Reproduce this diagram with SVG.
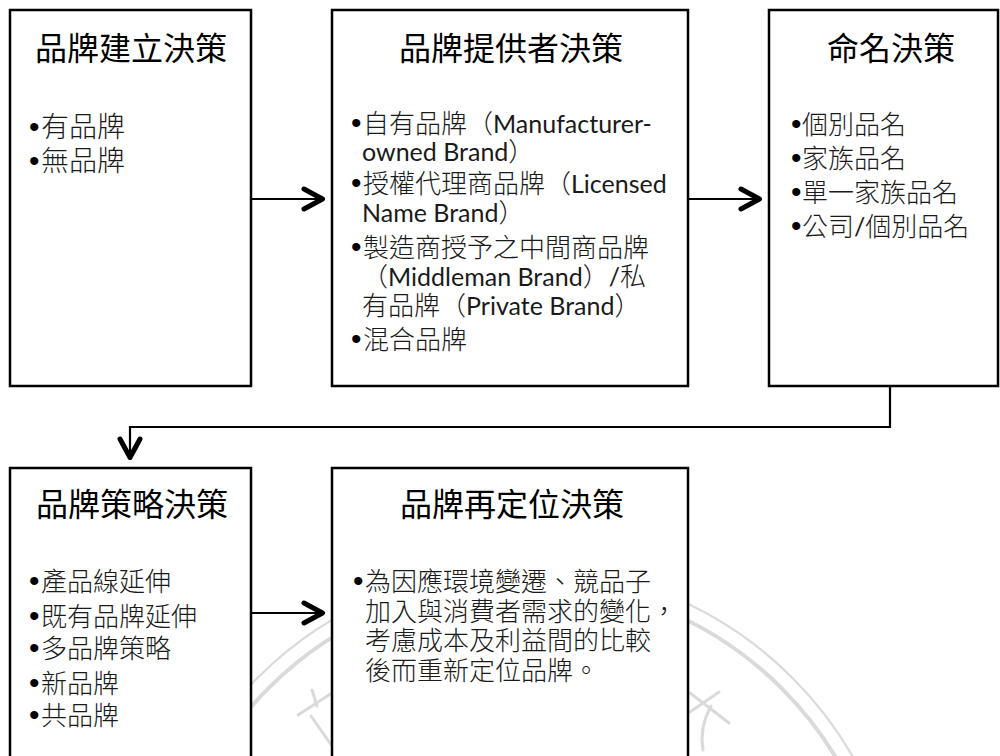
<svg xmlns="http://www.w3.org/2000/svg" width="1000" height="756" viewBox="0 0 1000 756">
<style>
.box{fill:#fff;stroke:#000;stroke-width:2.5}
.t{font-family:"Noto Sans CJK TC","Noto Sans CJK SC",sans-serif;font-size:32px;fill:#000;text-anchor:middle}
.b{font-family:Lato,"Noto Sans CJK TC","Noto Sans CJK SC",sans-serif;font-size:26px;font-weight:300;fill:#1a1a1a}
.b28{font-size:28px}
.bul{font-family:"Liberation Sans",Arial,sans-serif;font-size:30px;fill:#000}
.lat{font-family:Lato,sans-serif;font-size:25px;font-weight:400}
.conn{fill:none;stroke:#000;stroke-width:2.2}
.wm{fill:none;stroke:#dadada;stroke-linecap:round}
</style>
<defs>
<marker id="chev" markerUnits="userSpaceOnUse" viewBox="-28 -16 32 32" refX="0" refY="0" markerWidth="32" markerHeight="32" orient="auto" overflow="visible">
<path d="M-21,-10 L-2.5,0 L-21,10" fill="none" stroke="#000" stroke-width="5" stroke-linecap="round" stroke-linejoin="round"/>
</marker>
</defs>
<rect width="1000" height="756" fill="#fff"/>
<g id="watermark" class="wm">
<circle cx="525" cy="945" r="378" stroke-width="2.2"/>
<circle cx="525" cy="945" r="363" stroke-width="4"/>
<line x1="298" y1="715" x2="332" y2="693" stroke-width="3"/>
<line x1="312" y1="690" x2="317" y2="706" stroke-width="3"/>
<line x1="311" y1="716" x2="332" y2="746" stroke-width="3"/>
<line x1="719" y1="692" x2="690" y2="712" stroke-width="3"/>
<line x1="690" y1="693" x2="729" y2="723" stroke-width="3"/>
<path d="M711,706 Q699,728 703,750" stroke-width="3"/>
</g>
<g id="connectors">
<line class="conn" x1="251" y1="199" x2="325" y2="199" marker-end="url(#chev)"/>
<line class="conn" x1="688" y1="199" x2="762" y2="199" marker-end="url(#chev)"/>
<polyline class="conn" points="890,387 890,427 130,427 130,460" marker-end="url(#chev)"/>
<line class="conn" x1="251" y1="613" x2="325" y2="613" marker-end="url(#chev)"/>
</g>
<g id="node-brand-establish">
<rect class="box" x="10" y="10" width="241" height="376"/>
<text class="t" x="131" y="60">品牌建立決策</text>
<text class="bul" x="29" y="137">•</text><text class="b b28" x="41" y="137">有品牌</text>
<text class="bul" x="29" y="171">•</text><text class="b b28" x="41" y="171">無品牌</text>
</g>
<g id="node-brand-provider">
<rect class="box" x="332" y="10" width="356" height="376"/>
<text class="t" x="511" y="60">品牌提供者決策</text>
<text class="bul" x="351" y="133">•</text><text class="b" x="363" y="133">自有品牌（<tspan class="lat">Manufacturer-</tspan></text>
<text class="b" x="362" y="161"><tspan class="lat">owned Brand</tspan>）</text>
<text class="bul" x="351" y="193">•</text><text class="b" x="363" y="193">授權代理商品牌（<tspan class="lat">Licensed</tspan></text>
<text class="b" x="362" y="222"><tspan class="lat">Name Brand</tspan>）</text>
<text class="bul" x="351" y="257">•</text><text class="b" x="363" y="257">製造商授予之中間商品牌</text>
<text class="b" x="362" y="286">（<tspan class="lat">Middleman Brand</tspan>）<tspan class="lat">/</tspan>私</text>
<text class="b" x="362" y="315">有品牌（<tspan class="lat">Private Brand</tspan>）</text>
<text class="bul" x="351" y="349">•</text><text class="b" x="363" y="349">混合品牌</text>
</g>
<g id="node-naming">
<rect class="box" x="769" y="10" width="229" height="376"/>
<text class="t" x="891" y="60">命名決策</text>
<text class="bul" x="791" y="134">•</text><text class="b" x="802" y="134">個別品名</text>
<text class="bul" x="791" y="168">•</text><text class="b" x="802" y="168">家族品名</text>
<text class="bul" x="791" y="202">•</text><text class="b" x="802" y="202">單一家族品名</text>
<text class="bul" x="791" y="236">•</text><text class="b" x="802" y="236">公司<tspan class="lat">/</tspan>個別品名</text>
</g>
<g id="node-brand-strategy">
<rect class="box" x="10" y="468" width="241" height="300"/>
<text class="t" x="132" y="516">品牌策略決策</text>
<text class="bul" x="29" y="591">•</text><text class="b" x="41" y="591">產品線延伸</text>
<text class="bul" x="29" y="626">•</text><text class="b" x="41" y="626">既有品牌延伸</text>
<text class="bul" x="29" y="658">•</text><text class="b" x="41" y="658">多品牌策略</text>
<text class="bul" x="29" y="693">•</text><text class="b" x="41" y="693">新品牌</text>
<text class="bul" x="29" y="725">•</text><text class="b" x="41" y="725">共品牌</text>
</g>
<g id="node-repositioning">
<rect class="box" x="332" y="468" width="356" height="300"/>
<text class="t" x="512" y="516">品牌再定位決策</text>
<text class="bul" x="353" y="591">•</text><text class="b" x="365" y="591">為因應環境變遷、競品子</text>
<text class="b" x="365" y="621">加入與消費者需求的變化，</text>
<text class="b" x="365" y="650">考慮成本及利益間的比較</text>
<text class="b" x="365" y="680">後而重新定位品牌。</text>
</g>
</svg>
